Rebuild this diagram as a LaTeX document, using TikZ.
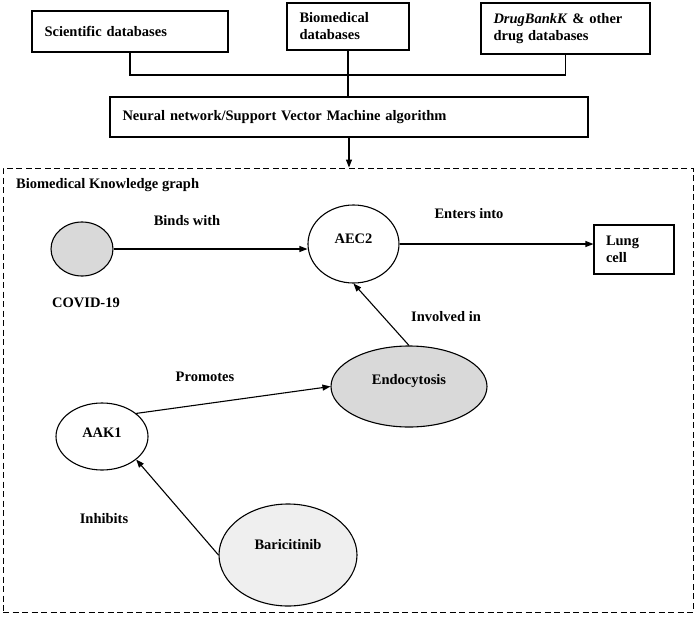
\documentclass[tikz,border=0pt]{standalone}
\usepackage{fontspec}
\setmainfont{Liberation Serif}
\usetikzlibrary{arrows.meta,shapes.geometric}
\definecolor{darkfill}{HTML}{D9D9D9}
\definecolor{lightfill}{HTML}{EFEFEF}
\begin{document}
\begin{tikzpicture}[x=1pt,y=-1pt,
  every node/.style={font=\fontsize{14.5}{17}\selectfont\bfseries},
  srcbox/.style={draw,line width=1.1pt,rectangle,inner xsep=12.5pt,inner ysep=0pt,align=left},
  ent/.style={draw,line width=1.1pt,ellipse,inner sep=0pt},
  lbl/.style={inner sep=0pt},
  arr/.style={line width=1.1pt,-{Triangle[length=8pt,width=6pt]}},
  conn/.style={line width=1.1pt}]
\useasboundingbox (0,0) rectangle (696,616);
% top source boxes
\node[srcbox,text width=171pt,minimum height=41pt] (sci) at (130,31.5) {Scientific databases};
\node[srcbox,text width=97pt,minimum height=47pt] (bio) at (348,26.5) {Biomedical\\databases};
\node[srcbox,text width=144pt,minimum height=51pt] (drug) at (565.5,28.5) {\textit{DrugBankK} \& other\\drug databases};
\node[srcbox,text width=453pt,minimum height=40pt] (nn) at (349,117) {Neural network/Support Vector Machine algorithm};
\coordinate (bus) at (0,75);
\draw[conn] (sci.south) -- (sci.south |- bus) -- (drug.south |- bus) -- (drug.south);
\draw[conn] (bio.south) -- (bio.south |- nn.north);
% knowledge graph frame
\node[draw,line width=1pt,dash pattern=on 6pt off 3.5pt,rectangle,inner sep=0pt,minimum width=690pt,minimum height=444pt] (kg) at (348,390) {};
\draw[arr] (nn.south) -- (nn.south |- kg.north);
\node[lbl,anchor=west] (kgtitle) at (16,185) {Biomedical Knowledge graph};
% entities
\node[ent,fill=darkfill,minimum width=62pt,minimum height=54pt] (covid) at (82,249) {};
\node[lbl] (covidlbl) at (86,303) {COVID-19};
\node[ent,fill=white,minimum width=91pt,minimum height=78pt] (aec2) at (353.5,244) {\raisebox{11pt}{AEC2}};
\node[srcbox,inner xsep=12pt,text width=56pt,minimum height=49pt] (lung) at (634,249.5) {Lung\\cell};
\node[ent,fill=darkfill,minimum width=156pt,minimum height=81pt] (endo) at (409,386.5) {\raisebox{13.5pt}{Endocytosis}};
\node[ent,fill=white,minimum width=92pt,minimum height=67pt] (aak1) at (102,436.5) {\raisebox{7.5pt}{AAK1}};
\node[ent,fill=lightfill,minimum width=138pt,minimum height=102pt] (bari) at (288,555) {\raisebox{22pt}{Baricitinib}};
% relations
\draw[arr] (covid.east) -- (covid.east -| aec2.west);
\draw[arr] (aec2.east) -- (aec2.east -| lung.west);
\draw[arr] (endo.north) -- (aec2.south);
\draw[arr] (aak1.34) -- (endo.west);
\draw[arr] (bari.west) -- (aak1.-34);
% relation labels
\node[lbl] (lbinds) at (187,221) {Binds with};
\node[lbl] (lenters) at (469,214) {Enters into};
\node[lbl] (linvolved) at (446,317) {Involved in};
\node[lbl] (lpromotes) at (205,377) {Promotes};
\node[lbl] (linhibits) at (104,519) {Inhibits};
\end{tikzpicture}
\end{document}
